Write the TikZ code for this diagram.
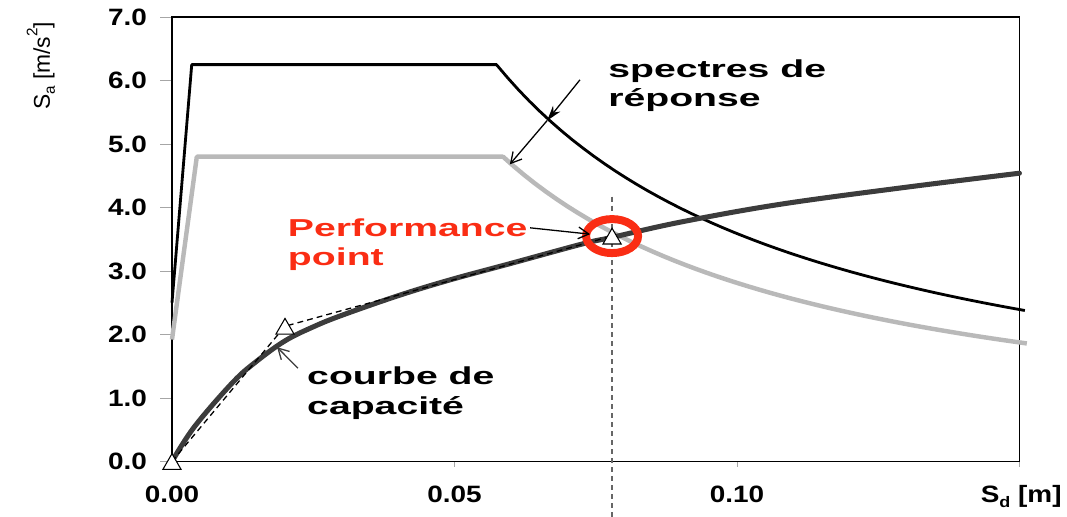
\documentclass[tikz,border=0pt]{standalone}
\usepackage{fontspec}
\setmainfont{Liberation Sans}
\newfontfamily\tickfont{Liberation Sans}[FakeStretch=1.18]
\newfontfamily\notefont{Liberation Sans}[FakeStretch=1.6]
\usetikzlibrary{arrows.meta,shapes.geometric}
\definecolor{ppred}{RGB}{250,45,20}
\definecolor{spgray}{RGB}{185,185,185}
\definecolor{capgray}{RGB}{60,60,60}
\newcommand{\lowidx}[1]{\raisebox{-0.22em}{\fontsize{13}{13}\selectfont #1}}
\newcommand{\highidx}[1]{\raisebox{0.55em}{\fontsize{13}{13}\selectfont #1}}
\tikzset{
  frame/.style={line width=1.5pt},
  tickmark/.style={line width=0.8pt, gray!70},
  tick label/.style={font=\tickfont\bfseries\fontsize{20.2}{24}\selectfont, inner sep=0pt},
  note/.style={font=\notefont\bfseries\fontsize{20.9}{25.6}\selectfont, align=left, inner sep=0pt, anchor=base west},
  black spectrum/.style={line width=2.4pt, line join=round},
  gray spectrum/.style={line width=3.8pt, spgray, line join=round},
  capacity/.style={line width=4.3pt, capgray, line cap=round},
  bilinear/.style={line width=1.1pt, dash pattern=on 5pt off 3.5pt},
  ppline/.style={line width=1.3pt, gray!80!black, dash pattern=on 4.3pt off 3.4pt},
  marker/.style={draw, regular polygon, regular polygon sides=3, minimum size=0.63cm,
    inner sep=0pt, fill=white, line width=0.9pt, yshift=-0.08cm},
  pointer/.style={line width=1.1pt, -{Straight Barb[length=9pt,width=10pt]}},
}
\begin{document}
\begin{tikzpicture}[x=169.5cm, y=1.905cm]
\useasboundingbox (-0.03044,-0.874) rectangle (0.15841,7.268);

\foreach \k in {0,...,7}{
  \draw[tickmark] (-0.0021,\k) -- (0,\k);
  \node[tick label, anchor=east] at (-0.0044,\k) {\k.0};
}
\foreach \s/\t in {0/0.00,0.05/0.05,0.10/0.10,0.15/}{
  \draw[tickmark] (\s,0) -- (\s,-0.094);
  \node[tick label, anchor=base] at (\s,-0.638) {\t};
}
\node[tick label, anchor=base east] (sd) at (0.1575,-0.638) {S\lowidx{d} [m]};
\node[font=\fontsize{19.5}{20}\selectfont, rotate=90, inner sep=0pt] (sa) at (-0.0232,6.23)
  {S\lowidx{a} [m/s\highidx{2}]};

\draw[frame] (0,0) rectangle (0.15,7);

\draw[gray spectrum] (0,1.92) -- (0.0044,4.8) -- (0.0586,4.8)
  -- plot[domain=0.0586:0.1515, samples=50] (\x,{0.2813/\x});
\draw[black spectrum] (0,2.5) -- (0.0035,6.25) -- (0.0575,6.25)
  -- plot[domain=0.0575:0.1515, samples=50] (\x,{0.359/\x});

\coordinate (O) at (0,0);
\coordinate (Y) at (0.02,2.13);
\coordinate (PP) at (0.0779,3.55);

\draw[ppline] (0.0779,4.17) -- (0.0779,-0.874);
\draw[capacity] plot[smooth, tension=0.6] coordinates {(0,0) (0.004,0.55) (0.0108,1.25)
  (0.015,1.58) (0.02,1.9) (0.025,2.12) (0.03,2.3) (0.04,2.61) (0.0492,2.86) (0.06,3.12)
  (0.0728,3.43) (0.0779,3.53) (0.09,3.77) (0.1076,4.05) (0.13,4.32) (0.15,4.54)};
\draw[bilinear] (O) -- (Y) -- (PP);

\draw[ppred, line width=6.8pt] (PP) ellipse [x radius=0.78cm, y radius=0.51cm];
\node[marker] (mO) at (O) {};
\node[marker] (mY) at (Y) {};
\node[marker] (mPP) at (PP) {};

\node[note] (spectres) at (0.0772,5.583) {spectres de\\réponse};
\node[note, ppred] (perf) at (0.0205,3.079) {Performance\\point};
\node[note] (courbe) at (0.0239,0.733) {courbe de\\capacité};

\coordinate (spec tail) at (0.0722,6.01);
\coordinate (black hit) at (0.0664,5.37);
\coordinate (gray hit) at (0.0598,4.68);
\coordinate (perf tail) at (0.0634,3.68);
\coordinate (perf hit) at (0.074,3.58);
\coordinate (cap tail) at (0.0223,1.47);
\coordinate (cap hit) at (0.0186,1.80);
\draw[line width=1.1pt, -{Stealth[length=13pt,width=8pt]}] (spec tail) -- (black hit);
\draw[pointer] (black hit) -- (gray hit);
\draw[pointer] (perf tail) -- (perf hit);
\draw[pointer, capgray] (cap tail) -- (cap hit);
\end{tikzpicture}
\end{document}
